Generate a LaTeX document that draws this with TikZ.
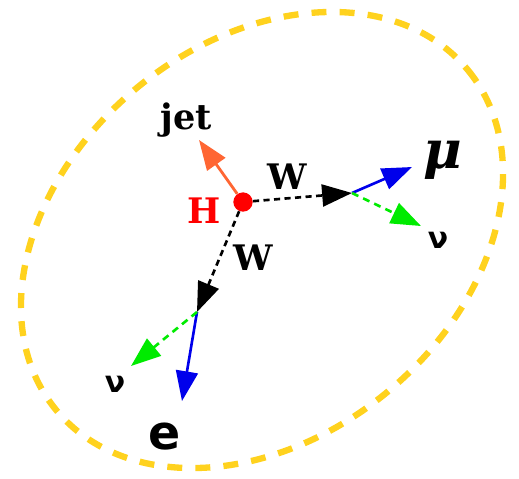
\documentclass[tikz,border=0pt]{standalone}
\usepackage{fontspec}
\setmainfont{DejaVu Serif}
\newfontfamily\labsans{DejaVu Sans}
\usetikzlibrary{arrows.meta, positioning}
\definecolor{ringgold}{RGB}{255,210,30}
\definecolor{jetorange}{RGB}{255,102,51}
\definecolor{lepblue}{RGB}{0,0,235}
\definecolor{nugreen}{RGB}{0,235,0}

\begin{document}
\begin{tikzpicture}[x=0.02cm, y=-0.02cm,
    tip/.style={-{Triangle[length=17pt, width=12.5pt]}},
    wboson/.style={tip, black, line width=1.5pt, dash pattern=on 3.5pt off 2.5pt},
    lepton/.style={tip, lepblue, line width=1.5pt},
    neutrino/.style={tip, nugreen, line width=1.5pt, dash pattern=on 4pt off 3pt},
    lab/.style={font=\bfseries\fontsize{20}{22}\selectfont, inner sep=0pt}]
\useasboundingbox (0,0) rectangle (519,478);

% detector ring
\draw[ringgold, line width=3.6pt, dash pattern=on 8.5pt off 7.5pt]
  (262,240) circle[x radius=267, y radius=197, rotate=39.6];

% Higgs vertex
\node[circle, fill=red, minimum size=11pt, inner sep=0pt] (H) at (243,202) {};
\node[lab, text=red] (Hlab) at (204,211) {H};

% jet
\coordinate (jettip) at (199,140);
\draw[tip, jetorange, line width=1.6pt] (H) -- (jettip);
\node[lab] (jetlab) at (186,120) {jet};

% W -> mu nu
\coordinate (wr) at (352,193);
\draw[wboson] (H) -- (wr);
\node[lab] (wrlab) at (287,177) {W};
\coordinate (mutip) at (412,167);
\draw[lepton] (wr) -- (mutip);
\node[font=\bfseries\itshape\fontsize{30}{32}\selectfont, inner sep=0pt] (mulab) at (443,160) {μ};
\coordinate (nurtip) at (421,226);
\draw[neutrino] (wr) -- (nurtip);
\node[font=\labsans\bfseries\fontsize{17}{20}\selectfont, inner sep=0pt] (nurlab) at (438,240) {ν};

% W -> e nu
\coordinate (wd) at (197,312);
\draw[wboson] (H) -- (wd);
\node[lab] (wdlab) at (253,258) {W};
\coordinate (etip) at (182,401);
\draw[lepton] (wd) -- (etip);
\node[font=\labsans\bfseries\fontsize{27}{30}\selectfont, inner sep=0pt] (elab) at (165,437) {e};
\coordinate (nudtip) at (131,366);
\draw[neutrino] (wd) -- (nudtip);
\node[font=\labsans\bfseries\fontsize{17}{20}\selectfont, inner sep=0pt] (nudlab) at (115,384) {ν};
\end{tikzpicture}
\end{document}
